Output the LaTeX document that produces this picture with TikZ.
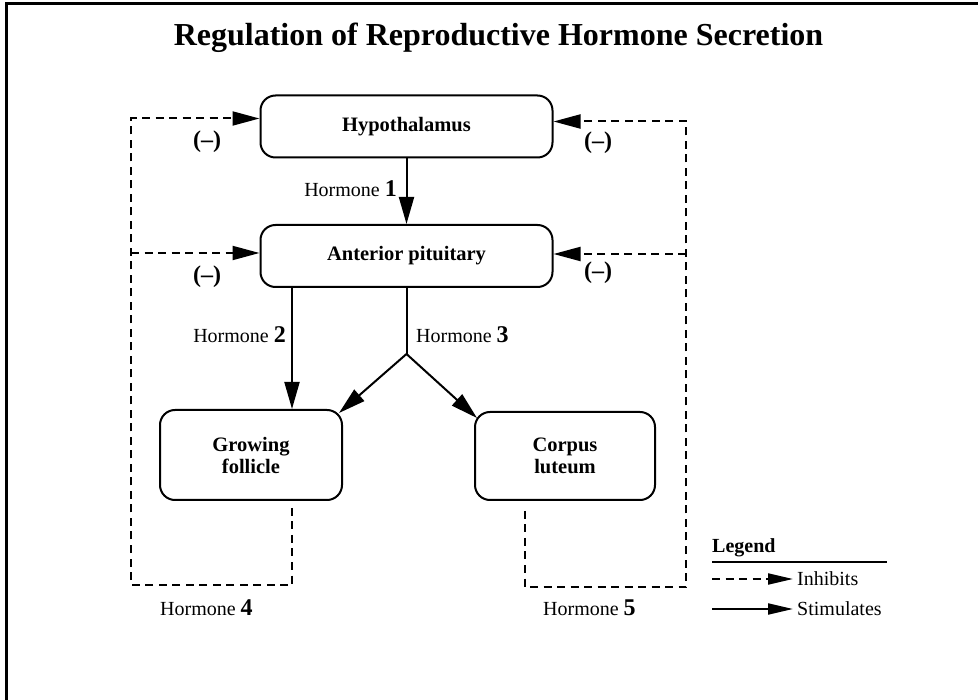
\documentclass[tikz,border=0pt]{standalone}
\usepackage{fontspec}
\setmainfont{Liberation Serif}
\usepackage{tikz}
\usetikzlibrary{arrows.meta,positioning,calc}
\tikzset{
    %Define standard arrow tip
    >={Triangle[length=27pt,width=15pt]},
    %Define style for boxes
    gland/.style={
           rectangle,
           rounded corners=15pt,
           draw=black, line width=2pt,
           align=center,
           font=\bfseries\fontsize{20.5}{22}\selectfont},
    hlabel/.style={
           inner sep=0pt,
           font=\fontsize{20}{22}\selectfont},
    minus/.style={
           inner sep=0pt,
           font=\bfseries\fontsize{24}{24}\selectfont},
    % Define arrow style
    stim/.style={
           ->,
           line width=2pt},
    inhib/.style={
           -{Triangle[length=27pt,width=14pt]},
           line width=2pt,
           dash pattern=on 8pt off 5.5pt},
    dline/.style={
           line width=2pt,
           dash pattern=on 8pt off 5.5pt}
}
\newcommand{\hnum}[1]{{\bfseries\fontsize{24}{24}\selectfont #1}}

\begin{document}
\begin{tikzpicture}[x=1pt, y=-1pt]
    \useasboundingbox (0,0) rectangle (978,700);
    % FRAME
    \draw[line width=3pt] (978,4) -- (6.5,4) -- (6.5,700);

    \node[font=\bfseries\fontsize{32}{32}\selectfont, anchor=base] at (498.5,46) (title)
        {Regulation of Reproductive Hormone Secretion};

    % GLANDS
    \node[gland, minimum width=292pt, minimum height=62pt] at (406.5,126.5) (hyp) {Hypothalamus};
    \node[gland, minimum width=292pt, minimum height=62pt] at (406.5,256) (ant) {Anterior pituitary};
    \node[gland, minimum width=182pt, minimum height=90pt] at (251,455) (fol) {Growing\\follicle};
    \node[gland, minimum width=180pt, minimum height=88pt] at (565,456) (cor) {Corpus\\luteum};

    % STIMULATING HORMONES
    \draw[stim] (hyp) -- (ant);
    \node[hlabel, anchor=base east] at (397,197) (h1) {Hormone \hnum{1}};

    \draw[stim] ([xshift=-114.5pt]ant.south) -- ([xshift=41pt]fol.north);
    \node[hlabel, anchor=base east] at (286,343) (h2) {Hormone \hnum{2}};

    \coordinate (split) at (406.5,354);
    \draw[line width=2pt] (ant) -- (split);
    \draw[stim] (split) -- ($(fol.north east)+(-4,4)$);
    \draw[stim] (split) -- ($(cor.north west)+(3,7)$);
    \node[hlabel, anchor=base west] at (416,343) (h3) {Hormone \hnum{3}};

    % FEEDBACK
    \coordinate (lbranch) at (131,253);
    \coordinate (rbranch) at (686,254);
    \draw[inhib] ([xshift=41pt,yshift=-7pt]fol.south) |- (131,585) |- ([yshift=8pt]hyp.west);
    \draw[inhib] (lbranch) -- ([yshift=3pt]ant.west);
    \draw[inhib] ([xshift=-40pt,yshift=-10pt]cor.south) |- (686,587) |- ([yshift=5pt]hyp.east);
    \draw[inhib] (rbranch) -- ([yshift=2pt]ant.east);

    \node[minus] at (207,142) (m1) {(--)};
    \node[minus] at (207,277) (m2) {(--)};
    \node[minus] at (598,143) (m3) {(--)};
    \node[minus] at (598,273) (m4) {(--)};

    \node[hlabel, anchor=base west] at (160,615) (h4) {Hormone \hnum{4}};
    \node[hlabel, anchor=base west] at (543,615) (h5) {Hormone \hnum{5}};

    % LEGEND
    \node[hlabel, font=\bfseries\fontsize{20}{22}\selectfont, anchor=base west] at (712,553) (leg) {Legend};
    \coordinate (legend end) at (887,562);
    \draw[line width=2pt] (leg.west |- legend end) -- (legend end);
    \node[hlabel, anchor=west] at (797,579) (inh) {Inhibits};
    \node[hlabel, anchor=west] at (797,609) (sti) {Stimulates};
    \draw[dline, -{Triangle[length=25pt,width=11pt]}] (leg.west |- inh.west) -- ([xshift=-4pt]inh.west);
    \draw[line width=2pt, -{Triangle[length=25pt,width=11pt]}] (leg.west |- sti.west) -- ([xshift=-4pt]sti.west);
\end{tikzpicture}
\end{document}
